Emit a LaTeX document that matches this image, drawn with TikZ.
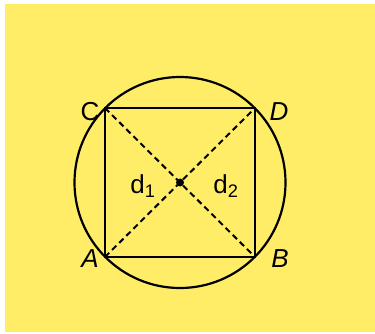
\documentclass[tikz,border=0pt]{standalone}
\usepackage{fontspec}
\setmainfont{Liberation Sans}
\definecolor{bgyellow}{RGB}{255,237,104}
\tikzset{
  edge/.style={line width=2.2pt, line cap=round},
  diag/.style={line width=2pt, dash pattern=on 6pt off 4pt},
  lbl/.style={font=\fontsize{26}{26}\selectfont, inner sep=0pt}
}
\begin{document}
\begin{tikzpicture}[x=1pt,y=-1pt]
\useasboundingbox (0,0) rectangle (375,333);
\fill[white] (0,0) rectangle (375,333);
\fill[bgyellow] (5,4) rectangle (375,332);
\coordinate (O) at (180,182.5);
\coordinate (A) at (105,257);
\coordinate (B) at (255,257);
\coordinate (C) at (105,108);
\coordinate (D) at (255,108);
\draw[edge] (O) circle[radius=105.5];
\draw[edge] (A) -- (B) -- (D) -- (C) -- cycle;
\draw[diag] (C) -- (B);
\draw[diag] (A) -- (D);
\fill (O) circle[radius=4];
\node[lbl] (lC) at (90,112) {C};
\node[lbl] (lD) at (279,112) {\itshape D};
\node[lbl] (lA) at (90,259) {\itshape A};
\node[lbl] (lB) at (280,259) {\itshape B};
\node[lbl] (ld1) at (143,186) {d\textsubscript{1}};
\node[lbl] (ld2) at (226,186) {d\textsubscript{2}};
\end{tikzpicture}
\end{document}
